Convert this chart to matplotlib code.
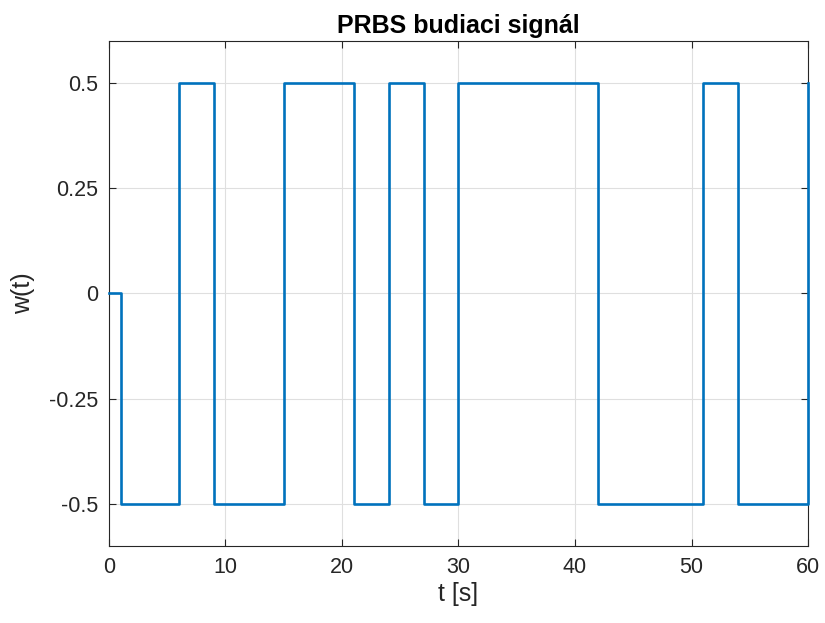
import matplotlib
matplotlib.use('Agg')

import matplotlib.pyplot as plt

# PRBS switching instants [s] and the level that starts there
switch_times = [0, 1, 6, 9, 15, 21, 24, 27, 30, 42, 51, 54, 60]
levels = [0, -0.5, 0.5, -0.5, 0.5, -0.5, 0.5, -0.5, 0.5, -0.5, 0.5, -0.5, 0.5]

x_ticks = [0, 10, 20, 30, 40, 50, 60]
y_ticks = [-0.5, -0.25, 0, 0.25, 0.5]
y_tick_labels = ["-0.5", "-0.25", "0", "0.25", "0.5"]

plt.rcParams['font.family'] = ['Liberation Sans', 'DejaVu Sans']

fig = plt.figure(figsize=(8.25, 6.23), dpi=100)
ax = fig.add_axes([0.1321, 0.1236, 0.8473, 0.8106])

ax.plot(switch_times, levels, drawstyle='steps-post', color='#0072BD',
        linewidth=1.9, clip_on=False, zorder=5)

ax.set_xlim(0, 60)
ax.set_ylim(-0.6, 0.6)
ax.set_xticks(x_ticks)
ax.set_yticks(y_ticks)
ax.set_yticklabels(y_tick_labels)

ax.grid(True, color='#dfdfdf', linewidth=0.8)
ax.set_axisbelow(True)
ax.tick_params(direction='in', length=5, width=0.8, colors='#262626',
               labelsize=15.5, top=True, right=True, pad=8)
for spine in ax.spines.values():
    spine.set_color('#262626')
    spine.set_linewidth(0.8)

ax.set_title("PRBS budiaci signál", fontsize=18, fontweight='bold', pad=6)
ax.set_xlabel("t [s]", fontsize=18, color='#262626', labelpad=3)
ax.set_ylabel("w(t)", fontsize=18, color='#262626', labelpad=10)

fig.savefig("out.png", dpi=100)
plt.close(fig)
